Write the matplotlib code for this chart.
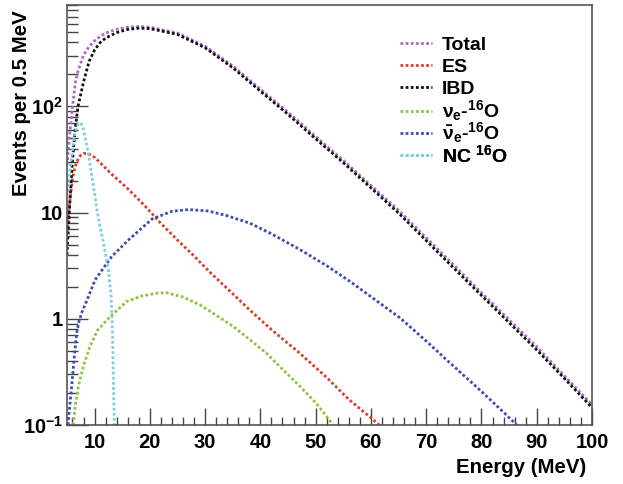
import numpy as np
import matplotlib
matplotlib.use('Agg')
import matplotlib.pyplot as plt
from matplotlib.ticker import LogLocator, MultipleLocator, NullFormatter

plt.rcParams['font.family'] = ['Liberation Sans', 'DejaVu Sans']
plt.rcParams['font.weight'] = 'bold'
plt.rcParams['mathtext.fontset'] = 'custom'
plt.rcParams['mathtext.rm'] = 'Liberation Sans:bold'
plt.rcParams['mathtext.it'] = 'Liberation Sans:bold'
plt.rcParams['mathtext.bf'] = 'Liberation Sans:bold'

# energies (MeV) and events per 0.5 MeV
tot_e = [5, 5.5, 6, 6.5, 7, 8, 9, 10, 11, 12, 14, 16, 18, 20, 25, 30, 35, 40, 45,
         50, 55, 60, 65, 70, 75, 80, 85, 90, 95, 100]
tot_n = [28, 55, 100, 165, 215, 305, 365, 415, 455, 490, 532, 555, 565, 556, 490,
         368, 240, 145, 88, 52, 31, 18, 10.5, 5.8, 3.2, 1.76, 0.98, 0.545, 0.29, 0.155]

ibd_e = [5, 5.5, 6, 6.5, 7, 8, 9, 10, 11, 12, 14, 16, 18, 20, 25, 30, 35, 40, 45,
         50, 55, 60, 65, 70, 75, 80, 85, 90, 95, 100]
ibd_n = [4.0, 12, 31, 62, 100, 170, 265, 340, 398, 440, 495, 530, 545, 540, 475,
         356, 231, 139, 84, 49.5, 29.5, 17.1, 9.9, 5.45, 3.0, 1.66, 0.92, 0.51, 0.275, 0.146]

es_e = [5, 5.3, 5.6, 6, 6.5, 7, 7.5, 8, 9, 10, 11, 13, 16, 19, 22, 25, 28, 31, 35,
        38, 42, 47, 52, 56, 60, 62]
es_n = [6.5, 10, 14.1, 20.9, 27.3, 31.6, 34.7, 36.1, 35.5, 33.1, 29.5, 23.2, 16.8,
        11.7, 7.9, 5.5, 3.9, 2.7, 1.72, 1.22, 0.79, 0.48, 0.28, 0.174, 0.117, 0.095]

nue_e = [6.1, 6.5, 7.05, 8, 9.16, 10.5, 12.8, 15.8, 18.5, 21.2, 23, 26, 29.1, 32.1,
         35.1, 38.1, 41.1, 44.1, 47.2, 50.2, 53.5]
nue_n = [0.1, 0.151, 0.229, 0.363, 0.55, 0.776, 1.047, 1.455, 1.64, 1.74, 1.76, 1.6,
         1.35, 1.07, 0.845, 0.634, 0.474, 0.331, 0.23, 0.158, 0.095]

nuebar_e = [5.2, 5.5, 5.85, 6.3, 6.75, 7.2, 7.7, 8.5, 10.1, 13.1, 16.2, 20.4, 24, 27,
            30.6, 34, 38.1, 42, 47.2, 52, 56.2, 61, 65.3, 70, 73.7, 79.7, 84, 86.8]
nuebar_n = [0.1, 0.151, 0.229, 0.427, 0.733, 0.955, 1.15, 1.445, 2.33, 3.86, 5.56, 8.71,
            10.28, 10.67, 10.35, 9.33, 7.94, 6.31, 4.47, 3.16, 2.25, 1.48, 1.016, 0.617,
            0.41, 0.214, 0.132, 0.095]

nc_e = [5, 5.5, 6, 6.5, 7, 7.5, 8, 8.5, 9, 9.5, 10, 10.5, 11, 11.5, 12, 12.5, 13,
        13.25, 13.45, 13.6]
nc_n = [14, 24, 40, 58, 68, 70, 60, 45, 33, 22, 15, 10, 7.3, 5.5, 4.0, 2.9, 1.6,
        0.7, 0.2, 0.08]

series = [
    ('Total', tot_e, tot_n, '#a96bc4'),
    ('ES', es_e, es_n, '#d9412f'),
    ('IBD', ibd_e, ibd_n, '#111111'),
    (r'$\nu_e$-$^{16}$O', nue_e, nue_n, '#8cc63e'),
    (r'$\bar{\nu}_e$-$^{16}$O', nuebar_e, nuebar_n, '#3e4db5'),
    (r'NC $^{16}$O', nc_e, nc_n, '#7fcfdf'),
]

fig = plt.figure(figsize=(6.23, 4.84), dpi=100)
ax = fig.add_axes([0.1075, 0.1219, 0.8427, 0.8678])

handles = []
for name, e, n, c in series:
    h, = ax.plot(e, n, color=c, lw=2.0, ls=(0, (1, 0.85)))
    handles.append((h, name))

ax.set_yscale('log')
ax.set_xlim(5, 100)
ax.set_ylim(0.1, 900)

ax.xaxis.set_major_locator(MultipleLocator(10))
ax.xaxis.set_minor_locator(MultipleLocator(2))
ax.yaxis.set_minor_locator(LogLocator(base=10, subs=np.arange(2, 10)))
ax.yaxis.set_minor_formatter(NullFormatter())
ax.set_xticks(range(10, 101, 10))
ax.set_xticklabels([str(v) for v in range(10, 101, 10)])
ax.set_yticks([0.1, 1, 10, 100])
ax.set_yticklabels([r'$10^{-1}$', '1', '10', r'$10^{2}$'])

ax.tick_params(axis='both', which='both', direction='in', top=False, right=False,
               labelsize=14.5, width=1.0, color='#444444')
ax.tick_params(axis='y', which='major', length=15, pad=3)
ax.tick_params(axis='y', which='minor', length=8)
ax.tick_params(axis='x', which='major', length=12, pad=6)
ax.tick_params(axis='x', which='minor', length=6)
for sp in ax.spines.values():
    sp.set_color('#555555')
    sp.set_linewidth(1.2)

fig.text(0.9406, 0.015, 'Energy (MeV)', ha='right', va='bottom', fontsize=14.7,
         fontweight='bold')
fig.text(0.034, 0.979, 'Events per 0.5 MeV', ha='center', va='top', rotation=90,
         fontsize=14.7, fontweight='bold')

# one single-entry legend per row so rows are evenly spaced
for i, (h, name) in enumerate(handles):
    leg = ax.legend([h], [name], loc='center left', bbox_to_anchor=(0.634, 0.905 - 0.0524 * i),
                    frameon=False, fontsize=14, handlelength=1.65, handletextpad=0.52,
                    borderpad=0, borderaxespad=0)
    ax.add_artist(leg)

fig.savefig('out.png', dpi=100)
